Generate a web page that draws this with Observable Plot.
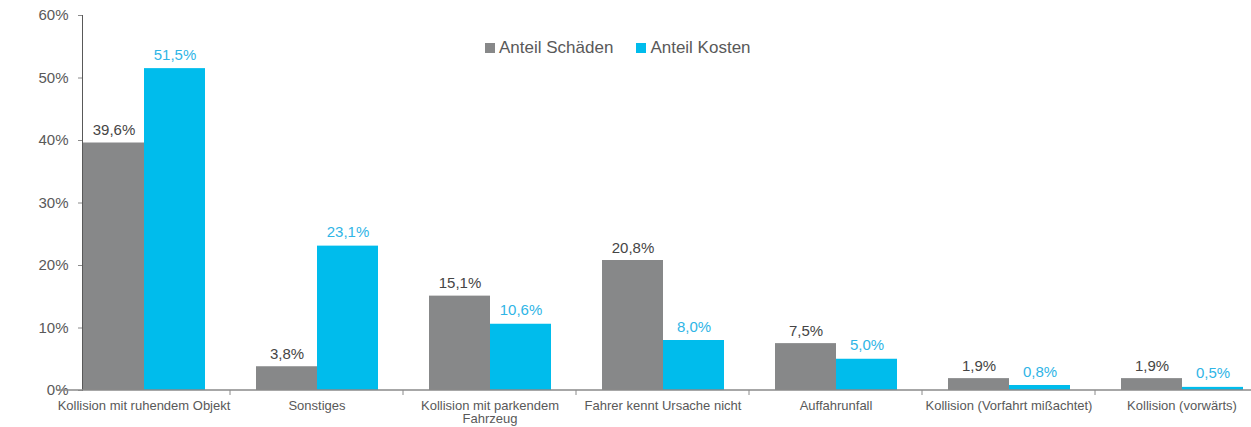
<!DOCTYPE html>
<html>
<head>
<meta charset="utf-8">
<script src="https://cdn.jsdelivr.net/npm/d3@7"></script>
<script src="https://cdn.jsdelivr.net/npm/@observablehq/plot@0.6"></script>
<style>
  html, body { margin: 0; padding: 0; background: #fff; }
  #wrap { position: relative; width: 1251px; height: 427px; overflow: hidden; font-family: "Liberation Sans", Arial, sans-serif; }
  #wrap > svg { max-width: none !important; height: 427px !important; }
  #legend { position: absolute; left: 485px; top: 38px; display: flex; gap: 23px; font-size: 17px; color: #595959; z-index: 2; }
  #legend .item { display: flex; align-items: center; }
  #legend .sw { width: 10px; height: 10px; margin-right: 4px; }
  svg g[aria-label^="fx-axis"] text { font-size: 13px; }
  svg g[aria-label^="y-axis"] text { font-size: 15px; }
</style>
</head>
<body>
<div id="wrap"><div id="legend"></div></div>
<script>
const categories = [
  "Kollision mit ruhendem Objekt",
  "Sonstiges",
  "Kollision mit parkendem\nFahrzeug",
  "Fahrer kennt Ursache nicht",
  "Auffahrunfall",
  "Kollision (Vorfahrt mißachtet)",
  "Kollision (vorwärts)"
];
const series = ["Anteil Schäden", "Anteil Kosten"];
const schaeden = [39.6, 3.8, 15.1, 20.8, 7.5, 1.9, 1.9];
const kosten = [51.5, 23.1, 10.6, 8.0, 5.0, 0.8, 0.5];
const yTicks = [0, 10, 20, 30, 40, 50, 60];
const barColors = ["#878889", "#00bcec"];
const labelColors = ["#454545", "#2fb5e6"];

const rows = [];
categories.forEach((c, i) => {
  rows.push({cat: c, series: series[0], value: schaeden[i]});
  rows.push({cat: c, series: series[1], value: kosten[i]});
});
const fmt = v => d3.format(".1f")(v).replace(".", ",") + "%";

const plot = Plot.plot({
  width: 1268,
  height: 427,
  marginLeft: 57,
  marginRight: 0,
  marginTop: 15,
  marginBottom: 37,
  style: {fontFamily: "'Liberation Sans', Arial, sans-serif", color: "#595959", background: "transparent", overflow: "visible", maxWidth: "none"},
  fx: {domain: categories, paddingInner: 0.29, paddingOuter: 0.145, label: null, tickSize: 0, tickPadding: 10},
  x: {domain: series, axis: null, paddingInner: 0, paddingOuter: 0},
  y: {domain: [0, 60], ticks: yTicks, tickFormat: d => d + "%", label: null, tickSize: 4, tickPadding: 10, line: true},
  color: {domain: series, range: barColors},
  marks: [
    Plot.barY(rows, {fx: "cat", x: "series", y: "value", fill: "series"}),
    Plot.text(rows.filter(d => d.series === series[0]), {fx: "cat", x: "series", y: "value", text: d => fmt(d.value), fill: labelColors[0], fontSize: 15, lineAnchor: "bottom", dy: -8}),
    Plot.text(rows.filter(d => d.series === series[1]), {fx: "cat", x: "series", y: "value", text: d => fmt(d.value), fill: labelColors[1], fontSize: 15, lineAnchor: "bottom", dy: -9})
  ]
});

document.getElementById("wrap").appendChild(plot);

// axis line colours
d3.select(plot).selectAll('g[aria-label^="y-axis"] path, g[aria-label^="y-axis"] line').attr("stroke", "#8a8a8a");

// baseline and category boundary ticks from the scales
const fxs = plot.scale("fx");
const ys = plot.scale("y");
const y0 = ys.apply(0);
const r0 = fxs.range[0], r1 = fxs.range[1];
const step = (r1 - r0) / categories.length;
const g = d3.select(plot).append("g").attr("stroke", "#8a8a8a");
g.append("line").attr("x1", r0).attr("x2", r1).attr("y1", y0).attr("y2", y0).attr("stroke-width", 1.6);
for (let i = 1; i < categories.length; i++) {
  const x = r0 + i * step;
  g.append("line").attr("x1", x).attr("x2", x).attr("y1", y0).attr("y2", y0 + 5);
}

// legend
const legend = d3.select("#legend");
series.forEach((s, i) => {
  const it = legend.append("div").attr("class", "item");
  it.append("div").attr("class", "sw").style("background", barColors[i]);
  it.append("span").text(s);
});
</script>
</body>
</html>
